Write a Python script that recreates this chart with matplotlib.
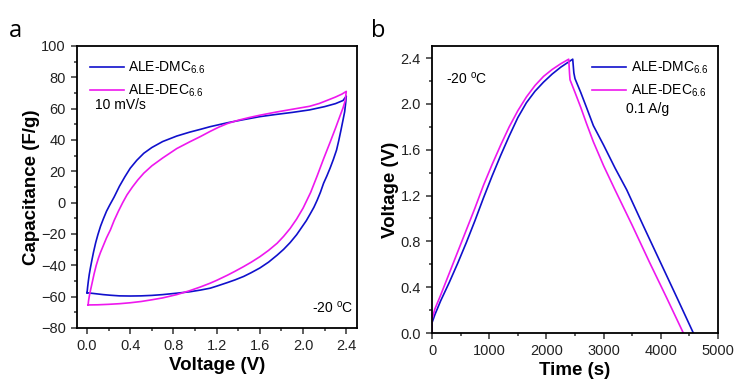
import matplotlib
matplotlib.use('Agg')
import matplotlib.pyplot as plt
from matplotlib.ticker import MultipleLocator, FormatStrFormatter

plt.rcParams['font.family'] = ['Liberation Sans', 'DejaVu Sans']
plt.rcParams['mathtext.fontset'] = 'custom'
plt.rcParams['mathtext.rm'] = 'Liberation Sans'
plt.rcParams['mathtext.it'] = 'Liberation Sans'

BLUE = '#1010CC'
MAGENTA = '#EE18EE'
labels = ['ALE-DMC$_{6.6}$', 'ALE-DEC$_{6.6}$']

# CV (panel a): forward scan then reverse scan
dmc_fwd_v = [0, 0.005, 0.012, 0.02, 0.03, 0.045, 0.06, 0.08, 0.1, 0.125, 0.15, 0.18, 0.21, 0.25, 0.3, 0.35, 0.4,
             0.46, 0.525, 0.6, 0.7, 0.83, 0.95, 1.05, 1.14, 1.3, 1.45, 1.6, 1.75, 1.9, 2.06, 2.2, 2.3, 2.37, 2.4]
dmc_fwd_c = [-57.5, -54, -50, -46, -42, -36.6, -31.5, -25.5, -20.5, -15, -10.5, -5.5, -1.5, 3.5, 10.5, 16.5, 22,
             27, 31.5, 35.2, 39, 42.5, 45, 46.8, 48.5, 51, 53, 54.9, 56.3, 57.6, 59.2, 61.3, 63.2, 65.2, 68]
dmc_rev_v = [2.4, 2.395, 2.385, 2.37, 2.35, 2.33, 2.31, 2.28, 2.25, 2.22, 2.19, 2.16, 2.13, 2.1, 2.065, 2.03, 1.99,
             1.94, 1.88, 1.82, 1.76, 1.68, 1.6, 1.52, 1.45, 1.37, 1.3, 1.2, 1.14, 1.05, 0.95, 0.83, 0.7, 0.6, 0.5,
             0.4, 0.3, 0.216, 0.15, 0.1, 0.05, 0.02, 0.0]
dmc_rev_c = [68, 64, 58, 52.8, 46, 39.5, 33.6, 27.5, 22, 17, 12.4, 6.5, 1.5, -3, -7.3, -11.5, -15.5,
             -20.5, -25.5, -29.8, -33.5, -38, -41.7, -44.7, -47.1, -49.3, -51, -53.3, -54.6, -55.8, -56.9, -57.8,
             -58.7, -59.2, -59.5, -59.6, -59.5, -59.1, -58.7, -58.3, -57.9, -57.7, -57.5]
dec_fwd_v = [0.01, 0.013, 0.02, 0.03, 0.046, 0.065, 0.085, 0.105, 0.123, 0.15, 0.18, 0.216, 0.25, 0.29, 0.33, 0.37,
             0.42, 0.47, 0.525, 0.6, 0.7, 0.83, 0.95, 1.05, 1.14, 1.22, 1.3, 1.4, 1.5, 1.6, 1.75, 1.9, 2.06, 2.15,
             2.22, 2.3, 2.36, 2.4]
dec_fwd_c = [-65.3, -63, -60, -56.5, -51.5, -45.5, -40, -35.5, -32, -27.5, -22.5, -17.4, -11.5, -5.5, 0, 5,
             10, 14.5, 18.8, 23.5, 28.5, 34.5, 38.8, 42.2, 45.5, 48.2, 50.5, 52.6, 54.3, 55.8, 57.8, 59.6, 61.5, 63.3,
             65.2, 67.4, 69.3, 71]
dec_rev_v = [2.4, 2.39, 2.37, 2.34, 2.3, 2.25, 2.19, 2.13, 2.07, 2.0, 1.94, 1.88, 1.82, 1.76, 1.68, 1.6, 1.52, 1.45,
             1.37, 1.3, 1.2, 1.14, 1.05, 0.95, 0.83, 0.7, 0.6, 0.5, 0.4, 0.3, 0.2, 0.1, 0.01]
dec_rev_c = [71, 65, 60.5, 55, 47.5, 38.5, 28, 17, 6.5, -3.5, -10.5, -16.5, -21.5, -25.9, -30.5, -34.5, -38, -40.8,
             -43.8, -46.3, -49.6, -51.4, -53.8, -56.2, -58.7, -60.8, -62, -63.1, -63.9, -64.5, -64.9, -65.2, -65.3]

# GCD (panel b)
dmc_t = [0, 0, 50, 150, 300, 450, 600, 750, 900, 1050, 1200, 1350, 1500, 1650, 1800, 1950, 2100, 2250, 2400, 2460,
         2470, 2480, 2500, 2600, 2700, 2821, 3000, 3200, 3404, 3700, 4000, 4300, 4569]
dmc_u = [0, 0.09, 0.16, 0.28, 0.44, 0.61, 0.79, 0.98, 1.18, 1.37, 1.55, 1.72, 1.88, 2.01, 2.11, 2.19, 2.26, 2.32,
         2.37, 2.39, 2.33, 2.27, 2.22, 2.10, 1.97, 1.81, 1.64, 1.44, 1.25, 0.93, 0.61, 0.29, 0.0]
dec_t = [0, 0, 50, 150, 300, 450, 600, 750, 900, 1050, 1200, 1350, 1500, 1650, 1800, 1950, 2100, 2250, 2390,
         2398, 2405, 2413, 2500, 2600, 2700, 2820, 3000, 3199, 3500, 3800, 4100, 4394]
dec_u = [0, 0.12, 0.21, 0.33, 0.52, 0.71, 0.90, 1.09, 1.29, 1.47, 1.64, 1.80, 1.94, 2.06, 2.16, 2.24, 2.30, 2.35,
         2.39, 2.32, 2.26, 2.21, 2.10, 1.97, 1.83, 1.67, 1.46, 1.25, 0.94, 0.62, 0.31, 0.0]

fig = plt.figure(figsize=(7.37, 3.87), dpi=100)
ax1 = fig.add_axes([0.1045, 0.1525, 0.380, 0.7287])
ax2 = fig.add_axes([0.5862, 0.1395, 0.388, 0.7416])

def style(ax):
    for s in ax.spines.values():
        s.set_linewidth(1.3)
    ax.tick_params(which='both', direction='out', top=False, right=False, labelsize=10.5, width=1.1,
                   color='#333333', labelcolor='#222222')
    ax.tick_params(which='major', length=4.5)
    ax.tick_params(which='minor', length=2.5)

ax1.plot(dmc_fwd_v + dmc_rev_v, dmc_fwd_c + dmc_rev_c, color=BLUE, lw=1.2, label=labels[0])
ax1.plot(dec_fwd_v + dec_rev_v, dec_fwd_c + dec_rev_c, color=MAGENTA, lw=1.2, label=labels[1])
ax1.set_xlim(-0.093, 2.5)
ax1.set_ylim(-80, 100)
ax1.xaxis.set_major_locator(MultipleLocator(0.4))
ax1.xaxis.set_minor_locator(MultipleLocator(0.2))
ax1.yaxis.set_major_locator(MultipleLocator(20))
ax1.yaxis.set_minor_locator(MultipleLocator(10))
ax1.xaxis.set_major_formatter(FormatStrFormatter('%.1f'))
style(ax1)
ax1.set_xlabel('Voltage (V)', fontsize=13.5, fontweight='bold', labelpad=3)
ax1.set_ylabel('Capacitance (F/g)', fontsize=13.5, fontweight='bold', labelpad=1)
ax1.legend(loc='upper left', frameon=False, fontsize=10, handlelength=2.5, handletextpad=0.3,
           borderaxespad=0.3, labelspacing=0.45, bbox_to_anchor=(0.01, 0.985))
ax1.text(0.065, 0.775, '10 mV/s', transform=ax1.transAxes, fontsize=10)
ax1.text(0.84, 0.055, r'-20 $^{\mathregular{o}}$C', transform=ax1.transAxes, fontsize=10)

ax2.plot(dmc_t, dmc_u, color=BLUE, lw=1.2, label=labels[0])
ax2.plot(dec_t, dec_u, color=MAGENTA, lw=1.2, label=labels[1])
ax2.set_xlim(0, 5000)
ax2.set_ylim(0, 2.505)
ax2.xaxis.set_major_locator(MultipleLocator(1000))
ax2.xaxis.set_minor_locator(MultipleLocator(500))
ax2.yaxis.set_major_locator(MultipleLocator(0.4))
ax2.yaxis.set_minor_locator(MultipleLocator(0.2))
ax2.yaxis.set_major_formatter(FormatStrFormatter('%.1f'))
style(ax2)
ax2.set_xlabel('Time (s)', fontsize=13.5, fontweight='bold', labelpad=3)
ax2.set_ylabel('Voltage (V)', fontsize=13.5, fontweight='bold', labelpad=1)
ax2.legend(loc='upper right', frameon=False, fontsize=10, handlelength=2.5, handletextpad=0.3,
           borderaxespad=0.3, labelspacing=0.45, bbox_to_anchor=(1.0, 0.985))
ax2.text(0.68, 0.765, '0.1 A/g', transform=ax2.transAxes, fontsize=10)
ax2.text(0.05, 0.87, r'-20 $^{\mathregular{o}}$C', transform=ax2.transAxes, fontsize=10)

fig.text(0.012, 0.905, 'a', fontsize=17, family='Open Sans')
fig.text(0.503, 0.905, 'b', fontsize=17, family='Open Sans')

fig.savefig('out.png', dpi=100)
